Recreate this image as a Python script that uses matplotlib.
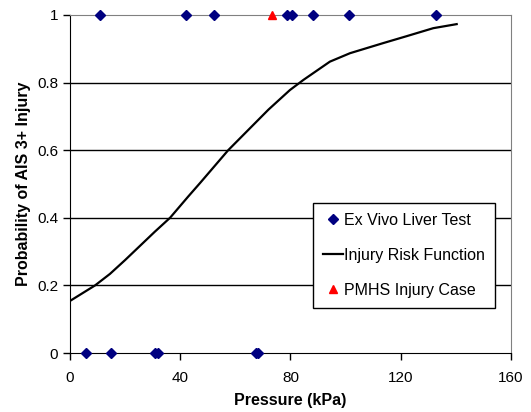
import matplotlib
matplotlib.use('Agg')
import matplotlib.pyplot as plt

plt.rcParams['font.family'] = ['Liberation Sans', 'DejaVu Sans']

# Ex vivo liver tests (binary outcome)
liver_x = [10.9, 42.0, 52.4, 78.6, 80.7, 88.3, 101.1, 132.8,
           5.8, 14.9, 30.8, 32.0, 67.6, 68.3]
liver_y = [1, 1, 1, 1, 1, 1, 1, 1,
           0, 0, 0, 0, 0, 0]

# Injury risk function
risk_x = [0, 9.1, 14.5, 20, 30.8, 36.3, 42.9, 47.2, 57.4, 64.7, 72, 79.8,
          84.7, 94.3, 101.6, 113.7, 122, 131.8, 140.3]
risk_y = [0.154, 0.2, 0.234, 0.275, 0.359, 0.40, 0.463, 0.503, 0.60, 0.66,
          0.72, 0.778, 0.808, 0.862, 0.887, 0.917, 0.937, 0.961, 0.973]

# PMHS injury case
pmhs_x = [73.2]
pmhs_y = [1]

fig = plt.figure(figsize=(5.31, 4.12), dpi=100)
ax = fig.add_axes([0.1318, 0.1432, 0.8305, 0.8204])

for y in [0.2, 0.4, 0.6, 0.8]:
    ax.axhline(y, color='black', linewidth=1, zorder=1)

ax.plot(liver_x, liver_y, linestyle='none', marker='D', markersize=5,
        color='#000080', label='Ex Vivo Liver Test', clip_on=False, zorder=3)
ax.plot(risk_x, risk_y, color='black', linewidth=1.6,
        label='Injury Risk Function', zorder=2)
ax.plot(pmhs_x, pmhs_y, linestyle='none', marker='^', markersize=6,
        color='red', label='PMHS Injury Case', clip_on=False, zorder=3)

ax.set_xlim(0, 160)
ax.set_ylim(0, 1)
ax.set_xticks([0, 40, 80, 120, 160])
ax.set_yticks([0, 0.2, 0.4, 0.6, 0.8, 1])
ax.set_yticklabels(['0', '0.2', '0.4', '0.6', '0.8', '1'])
ax.tick_params(direction='out', length=5, width=1, labelsize=11, color='black')
ax.tick_params(axis='x', pad=8)

for side in ['top', 'right']:
    ax.spines[side].set_color('#808080')
for side in ['left', 'bottom']:
    ax.spines[side].set_color('black')

ax.set_xlabel('Pressure (kPa)', fontsize=11.5, fontweight='bold', labelpad=6)
ax.set_ylabel('Probability of AIS 3+ Injury', fontsize=11.5, fontweight='bold')

leg = ax.legend(loc='upper left', bbox_to_anchor=(0.551, 0.444), fontsize=11.5,
                frameon=True, fancybox=False, edgecolor='black',
                borderpad=0.6, labelspacing=1.27, handlelength=1.3,
                handletextpad=0.05, borderaxespad=0)
leg.get_frame().set_linewidth(1)
leg.get_frame().set_alpha(1)

fig.savefig('out.png', dpi=100)
